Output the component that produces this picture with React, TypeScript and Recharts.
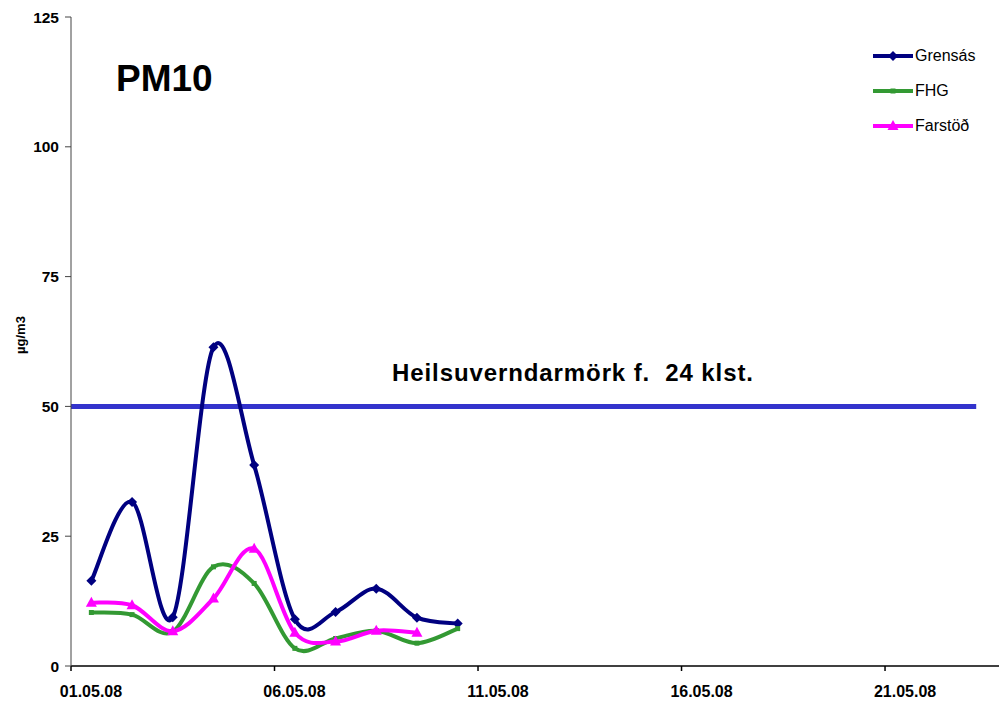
import React from 'react';
import { Line, LineChart, ReferenceLine, XAxis, YAxis } from 'recharts';

// days after 01.05.08 00:00 (daily averages, plotted at noon)
const days = [0.5, 1.5, 2.5, 3.5, 4.5, 5.5, 6.5, 7.5, 8.5, 9.5];
const grensas = [16.4, 31.6, 9.4, 61.4, 38.7, 9.0, 10.4, 14.9, 9.3, 8.2];
const fhg = [10.3, 9.9, 6.6, 19.1, 15.9, 3.4, 5.3, 6.8, 4.4, 7.2];
const farstod = [12.2, 11.7, 6.7, 13.0, 22.6, 6.4, 4.7, 6.8, 6.4];

const xTicks = [0, 5, 10, 15, 20];
const xTickLabels = ['01.05.08', '06.05.08', '11.05.08', '16.05.08', '21.05.08'];
const yTicks = [0, 25, 50, 75, 100, 125];
const limitValue = 50;
const limitEnd = 22.24;

const FONT = '"Liberation Sans", Arial, sans-serif';

const toSeries = (values: number[]) => values.map((value, i) => ({ day: days[i], value }));

// Excel-like smoothed line (Catmull-Rom bezier through every point)
function excelCurve(context: any) {
  let pts: Array<[number, number]> = [];
  return {
    areaStart() {},
    areaEnd() {},
    lineStart() {
      pts = [];
    },
    point(x: number, y: number) {
      pts.push([+x, +y]);
    },
    lineEnd() {
      const n = pts.length;
      if (n === 0) return;
      context.moveTo(pts[0][0], pts[0][1]);
      for (let i = 0; i < n - 1; i++) {
        const p0 = pts[Math.max(i - 1, 0)];
        const p1 = pts[i];
        const p2 = pts[i + 1];
        const p3 = pts[Math.min(i + 2, n - 1)];
        context.bezierCurveTo(
          p1[0] + (p2[0] - p0[0]) / 6,
          p1[1] + (p2[1] - p0[1]) / 6,
          p2[0] - (p3[0] - p1[0]) / 6,
          p2[1] - (p3[1] - p1[1]) / 6,
          p2[0],
          p2[1]
        );
      }
    }
  };
}

type Marker = 'diamond' | 'square' | 'triangle';

function markerPath(kind: Marker, cx: number, cy: number) {
  if (kind === 'diamond') return `M${cx},${cy - 5}L${cx + 5},${cy}L${cx},${cy + 5}L${cx - 5},${cy}Z`;
  if (kind === 'square') return `M${cx - 2.5},${cy - 2.5}h5v5h-5Z`;
  return `M${cx},${cy - 6}L${cx + 5.5},${cy + 4}L${cx - 5.5},${cy + 4}Z`;
}

const seriesDefs = [
  { name: 'Grensás', color: '#000080', marker: 'diamond' as Marker, values: grensas },
  { name: 'FHG', color: '#339933', marker: 'square' as Marker, values: fhg },
  { name: 'Farstöð', color: '#ff00ff', marker: 'triangle' as Marker, values: farstod }
];

// Excel puts date labels in the middle of the day, half a day right of the tick
function DateTick(props: any) {
  const { x, y, payload } = props;
  const label = xTickLabels[xTicks.indexOf(payload.value)] ?? '';
  return (
    <text x={x + 20} y={y} dy="0.71em" textAnchor="middle" fontFamily={FONT} fontSize={16} fontWeight={700} fill="#000">
      {label}
    </text>
  );
}

function LegendBox() {
  return (
    <div style={{ position: 'absolute', left: 873, top: 38, fontFamily: FONT, fontSize: 16, color: '#000' }}>
      {seriesDefs.map(s => (
        <div key={s.name} style={{ display: 'flex', alignItems: 'center', height: 35 }}>
          <svg width={42} height={14} style={{ display: 'block' }}>
            <line x1={0} y1={7} x2={40} y2={7} stroke={s.color} strokeWidth={4} />
            <path d={markerPath(s.marker, 20, 7)} fill={s.color} />
          </svg>
          <span>{s.name}</span>
        </div>
      ))}
    </div>
  );
}

export default function App() {
  return (
    <div style={{ position: 'absolute', left: 0, top: 0, width: 999, height: 701, background: '#fff' }}>
      <LineChart width={999} height={701} margin={{ top: 17, right: 0, left: 0, bottom: 0 }}>
        <XAxis
          dataKey="day"
          type="number"
          domain={[0, 22.8]}
          ticks={xTicks}
          height={35}
          tickSize={5}
          tickMargin={15}
          stroke="#000"
          strokeWidth={1.5}
          tick={<DateTick />}
          allowDataOverflow
        />
        <YAxis
          type="number"
          domain={[0, 125]}
          ticks={yTicks}
          width={71}
          tickSize={6}
          tickMargin={6}
          stroke="#444"
          tick={{ fill: '#000', fontSize: 15.5, fontWeight: 700, fontFamily: FONT }}
          label={() => (
            <text
              x={20}
              y={335}
              transform="rotate(-90 20 335)"
              textAnchor="middle"
              dominantBaseline="central"
              fontFamily={FONT}
              fontSize={13}
              fontWeight={700}
              fill="#000"
            >
              µg/m3
            </text>
          )}
        />
        <ReferenceLine
          segment={[{ x: 0, y: limitValue }, { x: limitEnd, y: limitValue }]}
          stroke="#3333cc"
          strokeWidth={5}
          label={(props: any) => {
            const vb = props.viewBox || {};
            const x1 = vb.x ?? 71;
            const y1 = vb.y ?? 406;
            return (
              <text
                x={x1 + 321}
                y={y1 - 25}
                fontFamily={FONT}
                fontSize={24}
                fontWeight={700}
                fill="#000"
                textLength={361}
                lengthAdjust="spacing"
                style={{ whiteSpace: 'pre' }}
                xmlSpace="preserve"
              >
                {'Heilsuverndarmörk f.  24 klst.'}
              </text>
            );
          }}
        />
        {seriesDefs.map(s => (
          <Line
            key={s.name}
            data={toSeries(s.values)}
            dataKey="value"
            name={s.name}
            type={excelCurve as any}
            stroke={s.color}
            strokeWidth={4}
            dot={(p: any) => <path key={`${s.name}-${p.index}`} d={markerPath(s.marker, p.cx, p.cy)} fill={s.color} />}
            activeDot={false}
            isAnimationActive={false}
          />
        ))}
        <text x={116} y={91} fontFamily={FONT} fontSize={37} fontWeight={700} fill="#000">
          PM10
        </text>
      </LineChart>
      <LegendBox />
    </div>
  );
}
